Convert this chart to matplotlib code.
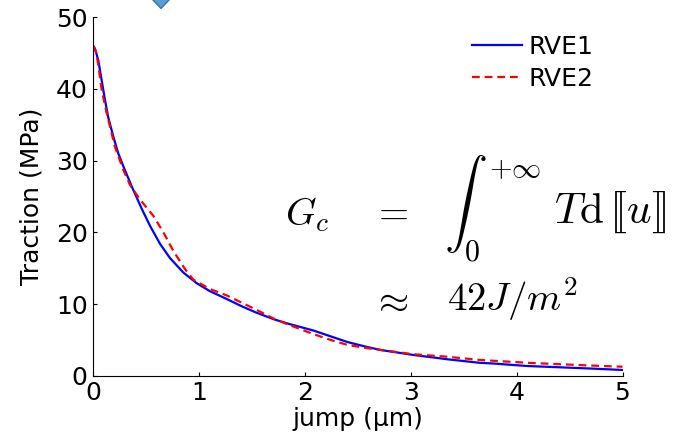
import matplotlib
matplotlib.use('Agg')
import matplotlib.pyplot as plt
from matplotlib.patches import Polygon

# traction-separation curves
x_rve1 = [0, 0.016, 0.047, 0.079, 0.11, 0.14, 0.19, 0.236, 0.284, 0.363, 0.457, 0.536,
          0.63, 0.725, 0.85, 0.977, 1.1, 1.26, 1.4, 1.54, 1.7, 1.83, 2.08, 2.24, 2.40,
          2.56, 2.71, 3.02, 3.34, 3.65, 3.78, 4.1, 4.41, 4.73, 5.0]
y_rve1 = [46, 45.6, 44.0, 41.2, 38.5, 36.1, 33.3, 31.0, 29.2, 26.4, 23.3, 20.9,
          18.4, 16.4, 14.4, 12.9, 11.8, 10.7, 9.7, 8.8, 7.9, 7.3, 6.3, 5.5, 4.7,
          4.1, 3.6, 2.9, 2.3, 1.8, 1.7, 1.35, 1.17, 0.98, 0.8]

x_rve2 = [0, 0.03, 0.05, 0.08, 0.127, 0.205, 0.284, 0.347, 0.44, 0.567, 0.662, 0.756,
          0.87, 0.945, 1.1, 1.26, 1.4, 1.54, 1.7, 1.83, 2.08, 2.24, 2.40, 2.56, 2.71,
          3.02, 3.34, 3.65, 4.1, 4.41, 4.73, 5.0]
y_rve2 = [46, 45, 43, 39.8, 36.6, 31.9, 28.7, 26.6, 24.6, 22.3, 20.0, 17.4,
          14.8, 13.4, 12.1, 11.2, 10.2, 9.2, 8.0, 7.2, 5.8, 5.0, 4.3, 3.9, 3.6,
          3.0, 2.65, 2.2, 1.8, 1.6, 1.4, 1.25]

x_ticks = [0, 1, 2, 3, 4, 5]
y_ticks = [0, 10, 20, 30, 40, 50]

plt.rcParams['font.family'] = ['DejaVu Sans']
plt.rcParams['mathtext.fontset'] = 'cm'

W, H = 676, 436
fig = plt.figure(figsize=(W / 100, H / 100), dpi=100)
ax = fig.add_axes([93.3 / W, 1 - 375.7 / H, (622.5 - 93.3) / W, (375.7 - 17.2) / H])

ax.plot(x_rve1, y_rve1, color='#0000ff', lw=1.6, label='RVE1')
ax.plot(x_rve2, y_rve2, color='#ff0000', lw=1.6, ls=(0, (3.5, 2.2)), label='RVE2')

ax.set_xlim(0, 5)
ax.set_ylim(0, 50)
ax.set_xticks(x_ticks)
ax.set_yticks(y_ticks)
ax.spines['top'].set_visible(False)
ax.spines['right'].set_visible(False)
ax.tick_params(direction='in', length=3, width=0.8, labelsize=18, pad=4)
ax.tick_params(axis='x', pad=4)
ax.set_xlabel('jump (μm)', fontsize=18, labelpad=1)
ax.set_ylabel('Traction (MPa)', fontsize=18, labelpad=9)

leg = ax.legend(loc='upper right', bbox_to_anchor=(616 / W, 1 - 12 / H),
                bbox_transform=fig.transFigure, frameon=False, fontsize=18,
                handlelength=2.0, handletextpad=0.25, labelspacing=0.33)

# equation
fs = 28
fig.text(285 / W, 1 - 215 / H, r'$G_c$', fontsize=fs, va='center', ha='left')
fig.text(390 / W, 1 - 213 / H, r'$=$', fontsize=fs, va='center', ha='center')
fig.text(444 / W, 1 - 210 / H, r'$\int_0$', fontsize=31, va='center', ha='left')
fig.text(489 / W, 1 - 169 / H, r'$+\infty$', fontsize=21, va='center', ha='left')
fig.text(554 / W, 1 - 212 / H, r'$T\mathrm{d}\,[\![u]\!]$', fontsize=31,
         va='center', ha='left')
fig.text(390 / W, 1 - 300 / H, r'$\approx$', fontsize=fs, va='center', ha='center')
fig.text(447 / W, 1 - 299 / H, r'$42J/m^2$', fontsize=fs, va='center', ha='left')

# small clipped marker at the top edge
diamond = Polygon([(152 / W, 1 - (-1) / H), (161 / W, 1 - 8.5 / H), (170 / W, 1 - (-1) / H),
                   (161 / W, 1 - (-10) / H)], closed=True, transform=fig.transFigure,
                  facecolor='#5b9bd5', edgecolor='#41719c', lw=1)
fig.patches.append(diamond)

fig.savefig('out.png', dpi=100)
